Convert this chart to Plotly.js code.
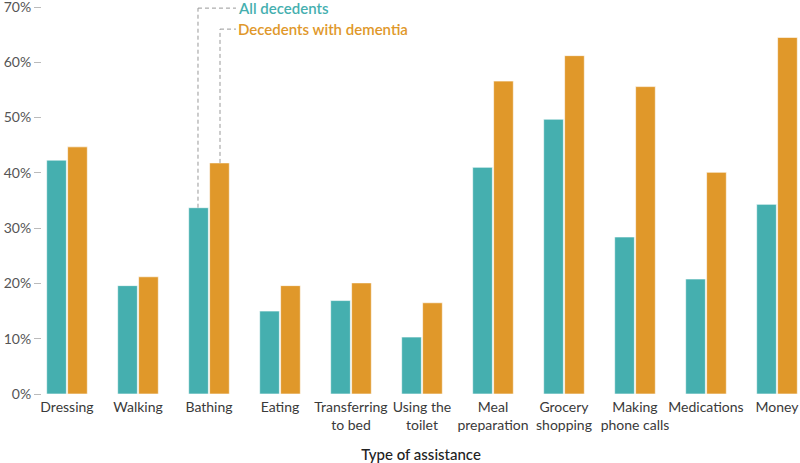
<!DOCTYPE html>
<html>
<head>
<meta charset="utf-8">
<script src="https://cdn.plot.ly/plotly-3.0.1.min.js"></script>
<style>html,body{margin:0;padding:0;background:#fff;}#chart{width:800px;height:463px;}</style>
</head>
<body>
<div id="chart"></div>
<script>
const categories = ["Dressing", "Walking", "Bathing", "Eating", "Transferring<br>to bed", "Using the<br>toilet", "Meal<br>preparation", "Grocery<br>shopping", "Making<br>phone calls", "Medications", "Money"];
const allDecedents = [42.3, 19.6, 33.7, 15.0, 16.9, 10.3, 41.0, 49.7, 28.4, 20.8, 34.3];
const dementia = [44.7, 21.2, 41.8, 19.6, 20.1, 16.5, 56.6, 61.2, 55.6, 40.1, 64.5];
const seriesNames = ["All decedents", "Decedents with dementia"];
const yTicks = [0, 10, 20, 30, 40, 50, 60, 70];

const teal = "#45AFAF";
const orange = "#E0982A";
const font = "Lato, 'Open Sans', sans-serif";

const traces = [
  {type: "bar", name: seriesNames[0], x: categories, y: allDecedents,
   marker: {color: teal, line: {color: "rgba(255,255,255,0.6)", width: 1}}, hoverinfo: "y"},
  {type: "bar", name: seriesNames[1], x: categories, y: dementia,
   marker: {color: orange, line: {color: "rgba(255,255,255,0.6)", width: 1}}, hoverinfo: "y"}
];

const bathing = 2;
const off = 0.155;
const topAll = 69.8, topDem = 66.0, textX = 2.38;
const dash = {color: "#999", width: 1, dash: "4px,3px"};

const layout = {
  width: 800, height: 463,
  margin: {l: 42, r: 0, t: 7, b: 69},
  paper_bgcolor: "#fff", plot_bgcolor: "#fff",
  showlegend: false,
  barmode: "group", bargap: 0.41, bargroupgap: 0.06,
  font: {family: font, color: "#333", size: 14},
  xaxis: {
    type: "category", range: [-0.352, 10.324], automargin: false,
    showgrid: false, zeroline: false, showline: false, ticks: "",
    tickangle: 0, ticklabeloverflow: "allow", ticklabelstandoff: 3,
    tickfont: {size: 14, color: "#3a3a3a"},
    title: {text: "Type of assistance", font: {size: 15, color: "#222", weight: 500}, standoff: 18}
  },
  yaxis: {
    range: [0, 70], tickvals: yTicks, ticktext: yTicks.map(v => v + "%"), automargin: false,
    showgrid: false, zeroline: false, showline: false, ticklabeloverflow: "allow",
    ticks: "outside", ticklen: 7, tickcolor: "#bbb", tickwidth: 1,
    tickfont: {size: 14, color: "#555"}
  },
  shapes: [
    {type: "line", xref: "x", yref: "y", x0: bathing - off, x1: bathing - off, y0: allDecedents[bathing], y1: topAll, line: dash},
    {type: "line", xref: "x", yref: "y", x0: bathing - off, x1: textX, y0: topAll, y1: topAll, line: dash},
    {type: "line", xref: "x", yref: "y", x0: bathing + off, x1: bathing + off, y0: dementia[bathing], y1: topDem, line: dash},
    {type: "line", xref: "x", yref: "y", x0: bathing + off, x1: textX, y0: topDem, y1: topDem, line: dash}
  ],
  annotations: [
    {xref: "x", yref: "y", x: textX, y: topAll, xanchor: "left", yanchor: "middle", showarrow: false,
     text: seriesNames[0], font: {size: 15, color: teal, weight: 600}, xshift: 0},
    {xref: "x", yref: "y", x: textX, y: topDem, xanchor: "left", yanchor: "middle", showarrow: false,
     text: seriesNames[1], font: {size: 15, color: orange, weight: 600}, xshift: 0}
  ]
};

Plotly.newPlot("chart", traces, layout, {displayModeBar: false, staticPlot: true});
</script>
</body>
</html>
